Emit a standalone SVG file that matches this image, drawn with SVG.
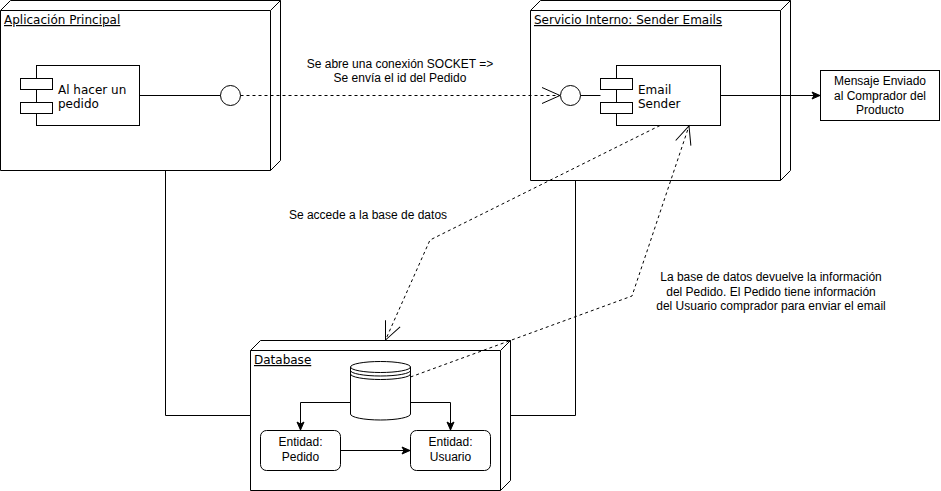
<svg xmlns="http://www.w3.org/2000/svg" width="941" height="491" viewBox="0 0 941 491">
<defs>
<style>
.s{fill:none;stroke:#000;stroke-width:1}
.w{fill:#fff;stroke:#000;stroke-width:1}
.d{fill:none;stroke:#000;stroke-width:1;stroke-dasharray:3 3}
.v{font-family:"DejaVu Sans",Verdana,sans-serif;font-size:12px;fill:#000}
.u{text-decoration:underline}
.h{font-family:"Liberation Sans",Arial,Helvetica,sans-serif;font-size:12px;fill:#000;text-anchor:middle}
</style>
<marker id="open" markerUnits="userSpaceOnUse" markerWidth="22" markerHeight="20" refX="19" refY="9" orient="auto" viewBox="0 0 22 20">
<path d="M1,1 L19,9 L1,17" fill="none" stroke="#000" stroke-width="1"/>
</marker>
<marker id="block" markerUnits="userSpaceOnUse" markerWidth="10" markerHeight="10" refX="9" refY="5" orient="auto" viewBox="0 0 10 10">
<path d="M1,1.5 L9,5 L1,8.5 L3,5 Z" fill="#000" stroke="#000" stroke-width="1"/>
</marker>
</defs>
<rect width="941" height="491" fill="#fff"/>

<g id="node-aplicacion">
<path class="w" d="M0.5,10.5 L10.5,0.5 L280.5,0.5 L280.5,160.5 L270.5,170.5 L0.5,170.5 Z"/>
<path class="s" d="M0.5,10.5 L270.5,10.5 L280.5,0.5 M270.5,10.5 L270.5,170.5"/>
<text class="v u" x="4" y="24">Aplicación Principal</text>
</g>

<g id="comp-al-hacer">
<rect class="w" x="36.5" y="65.5" width="103" height="60"/>
<rect class="w" x="20.5" y="78.5" width="32" height="11"/>
<rect class="w" x="20.5" y="102.5" width="32" height="11"/>
<text class="v" x="58" y="94">Al hacer un</text>
<text class="v" x="58" y="108">pedido</text>
</g>

<g id="iface-left">
<circle class="w" cx="230.5" cy="95.5" r="10"/>
</g>

<g id="node-servicio">
<path class="w" d="M530.5,10.5 L540.5,0.5 L790.5,0.5 L790.5,170.5 L780.5,180.5 L530.5,180.5 Z"/>
<path class="s" d="M530.5,10.5 L780.5,10.5 L790.5,0.5 M780.5,10.5 L780.5,180.5"/>
<text class="v u" x="534" y="24">Servicio Interno: Sender Emails</text>
</g>

<g id="iface-right">
<circle class="w" cx="570.5" cy="95.5" r="10"/>
</g>

<g id="comp-email-sender">
<rect class="w" x="616.5" y="65.5" width="104" height="60"/>
<rect class="w" x="600.5" y="78.5" width="32" height="11"/>
<rect class="w" x="600.5" y="102.5" width="32" height="11"/>
<text class="v" x="638" y="94">Email</text>
<text class="v" x="638" y="108">Sender</text>
</g>

<g id="mensaje">
<rect class="w" x="820.5" y="70.5" width="119" height="50"/>
<text class="h" x="880" y="85">Mensaje Enviado</text>
<text class="h" x="880" y="99.5">al Comprador del</text>
<text class="h" x="880" y="114">Producto</text>
</g>

<g id="node-database">
<path class="w" d="M250.5,350.5 L260.5,340.5 L510.5,340.5 L510.5,480.5 L500.5,490.5 L250.5,490.5 Z"/>
<path class="s" d="M250.5,350.5 L500.5,350.5 L510.5,340.5 M500.5,350.5 L500.5,490.5"/>
<text class="v u" x="254" y="364">Database</text>
</g>

<g id="datastore">
<path class="w" d="M350.5,367 A30,5.5 0 0 1 410.5,367 L410.5,414 A30,6 0 0 1 350.5,414 Z"/>
<path class="s" d="M350.5,367 A30,5.5 0 0 0 410.5,367 M350.5,370.5 A30,5.5 0 0 0 410.5,370.5 M350.5,374 A30,5.5 0 0 0 410.5,374"/>
</g>

<g id="entidad-pedido">
<rect class="w" x="260.5" y="430.5" width="80" height="40" rx="6" ry="6"/>
<text class="h" x="300.5" y="446">Entidad:</text>
<text class="h" x="300.5" y="461">Pedido</text>
</g>

<g id="entidad-usuario">
<rect class="w" x="410.5" y="430.5" width="80" height="40" rx="6" ry="6"/>
<text class="h" x="450.5" y="446">Entidad:</text>
<text class="h" x="450.5" y="461">Usuario</text>
</g>

<g id="connectors">
<path class="s" d="M165.5,170.5 L165.5,415.5 L250.5,415.5"/>
<path class="s" d="M575.5,180.5 L575.5,415.5 L510.5,415.5"/>
<path class="s" d="M140,95.5 L220.5,95.5"/>
<path class="d" d="M240.5,95.5 L560,95.5" marker-end="url(#open)"/>
<path class="s" d="M580.5,95.5 L600.5,95.5"/>
<path class="s" d="M720.5,95.5 L820,95.5" marker-end="url(#block)"/>
<path class="d" d="M660,125.5 L430,240 L385.5,340" marker-end="url(#open)"/>
<path class="d" d="M410.5,377 L632,296 L689,126" marker-end="url(#open)"/>
<path class="s" d="M350.5,402.5 L300.5,402.5 L300.5,430" marker-end="url(#block)"/>
<path class="s" d="M410.5,402.5 L450.5,402.5 L450.5,430" marker-end="url(#block)"/>
<path class="s" d="M340.5,450.5 L410,450.5" marker-end="url(#block)"/>
<text class="h" x="400" y="68">Se abre una conexión SOCKET =&gt;</text>
<text class="h" x="400" y="82">Se envía el id del Pedido</text>
<text class="h" x="368" y="219">Se accede a la base de datos</text>
<text class="h" x="771" y="281">La base de datos devuelve la información</text>
<text class="h" x="771" y="295.5">del Pedido. El Pedido tiene información</text>
<text class="h" x="771" y="310">del Usuario comprador para enviar el email</text>
</g>
</svg>
